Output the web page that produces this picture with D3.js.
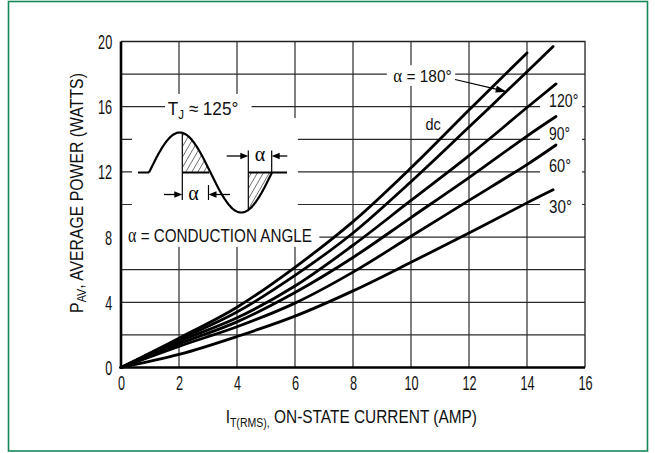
<!DOCTYPE html>
<html><head><meta charset="utf-8">
<script src="https://cdn.jsdelivr.net/npm/d3@7"></script>
<style>
html,body{margin:0;padding:0;background:#fff;}
svg{display:block;}
</style></head><body>
<svg id="chart" width="655" height="453"></svg>
<script>
// Average on-state power dissipation (W) versus RMS on-state current (A),
// one curve per conduction angle plus the dc curve.
const currentDc  = [0, 2, 4, 6, 8, 10, 12, 14];
const powerDc    = [0, 1.8, 3.7, 6.15, 8.95, 12.25, 15.8, 19.3];
const current180 = [0, 2, 4, 6, 8, 10, 12, 14, 14.9];
const power180   = [0, 1.7, 3.4, 5.65, 8.25, 11.4, 14.75, 18.15, 19.7];
const current120 = [0, 2, 4, 6, 8, 10, 12, 14, 15];
const power120   = [0, 1.6, 3.05, 5.0, 7.5, 10.25, 13.0, 15.95, 17.4];
const current90  = [0, 2, 4, 6, 8, 10, 12, 14, 15];
const power90    = [0, 1.45, 2.8, 4.6, 6.75, 9.2, 11.65, 14.2, 15.4];
const current60  = [0, 2, 4, 6, 8, 10, 12, 14, 15];
const power60    = [0, 1.3, 2.5, 3.95, 5.85, 8.05, 10.25, 12.45, 13.65];
const current30  = [0, 2, 4, 6, 8, 10, 12, 14, 14.9];
const power30    = [0, 0.8, 1.9, 3.15, 4.7, 6.45, 8.25, 10.1, 10.9];

const xTicks = [0, 2, 4, 6, 8, 10, 12, 14, 16];
const yTicks = [0, 4, 8, 12, 16, 20];
const xGridValues = [2, 4, 6, 8, 10, 12, 14];
const yGridValues = [2, 4, 6, 8, 10, 12, 14, 16, 18];

const series = [
  { name: "dc",   x: currentDc,  y: powerDc },
  { name: "180°", x: current180, y: power180 },
  { name: "120°", x: current120, y: power120 },
  { name: "90°",  x: current90,  y: power90 },
  { name: "60°",  x: current60,  y: power60 },
  { name: "30°",  x: current30,  y: power30 }
];

const SANS = "'Liberation Sans Narrow','Liberation Sans',Arial,sans-serif";
const SERIF = "'Liberation Serif','DejaVu Serif','Times New Roman',serif";

const svg = d3.select("#chart");
const x = d3.scaleLinear().domain([0, 16]).range([121, 585]);
const y = d3.scaleLinear().domain([0, 20]).range([367.5, 41.5]);

// outer frame
svg.append("rect").attr("x", 8.5).attr("y", 1.5).attr("width", 639).attr("height", 449.5)
  .attr("fill", "none").attr("stroke", "#17885a").attr("stroke-width", 1.6);

const gGrid = svg.append("g");
const gMask = svg.append("g");
const gInset = svg.append("g");
const gCurves = svg.append("g");
const gLabels = svg.append("g");
const gAxes = svg.append("g");

// grid
gGrid.selectAll("line.h").data(yGridValues).join("line")
  .attr("x1", x(0)).attr("x2", x(16)).attr("y1", d => y(d)).attr("y2", d => y(d))
  .attr("stroke", "#2b2b2b").attr("stroke-width", 1.2);
gGrid.selectAll("line.v").data(xGridValues).join("line")
  .attr("y1", y(0)).attr("y2", y(20)).attr("x1", d => x(d)).attr("x2", d => x(d))
  .attr("stroke", "#2b2b2b").attr("stroke-width", 1.2);
// top and right frame of the plot
gAxes.append("path")
  .attr("d", `M${x(0)},${y(20)}H${x(16)}V${y(0)}`)
  .attr("fill", "none").attr("stroke", "#222").attr("stroke-width", 1.3);

// text helper: builds a text from parts (sub = subscript) and squeezes it to a width
function label(parent, opt) {
  const tr = `translate(${opt.x},${opt.y})` + (opt.rotate ? ` rotate(${opt.rotate})` : "");
  const g = parent.append("g").attr("transform", tr);
  const t = g.append("text").attr("text-anchor", opt.anchor || "start")
    .attr("font-size", opt.size).attr("font-family", opt.family || SANS).attr("fill", "#111");
  let shift = 0;
  opt.parts.forEach(p => {
    const ts = t.append("tspan").text(p.t);
    if (p.family) ts.attr("font-family", p.family);
    if (p.size) ts.attr("font-size", p.size);
    const want = p.sub || 0;
    if (want !== shift) { ts.attr("dy", want - shift); shift = want; }
  });
  if (opt.w) {
    const bw = t.node().getBBox().width;
    g.attr("transform", tr + ` scale(${opt.w / bw},1)`);
  }
  return g;
}
function maskBehind(node, padL, padR, padT, padB) {
  const b = node.getBoundingClientRect();
  gMask.append("rect").attr("x", b.left - padL).attr("y", b.top - padT)
    .attr("width", b.width + padL + padR).attr("height", b.height + padT + padB)
    .attr("fill", "#fff");
}

// inset area kept clear of the grid
gMask.append("rect").attr("x", x(0.38)).attr("y", y(15.3))
  .attr("width", x(6.1) - x(0.38)).attr("height", y(7.4) - y(15.3)).attr("fill", "#fff");

// curves
const line = d3.line().x(d => x(d[0])).y(d => y(d[1])).curve(d3.curveCatmullRom.alpha(0.5));
gCurves.selectAll("path").data(series).join("path")
  .attr("d", s => line(s.x.map((v, i) => [v, s.y[i]])))
  .attr("fill", "none").attr("stroke", "#000").attr("stroke-width", 2.8)
  .attr("stroke-linecap", "round");

// curve labels
const sideLabels = [
  { t: "120°", x: 14.76, y: 16.0, w: 29.3 },
  { t: "90°",  x: 14.76, y: 13.95, w: 21 },
  { t: "60°",  x: 14.76, y: 12.0, w: 22 },
  { t: "30°",  x: 14.76, y: 9.45, w: 23 }
];
sideLabels.forEach(l => {
  const g = label(gLabels, { x: x(l.x), y: y(l.y), size: 17.5, w: l.w, parts: [{ t: l.t }] });
  const b = g.node().getBoundingClientRect();
  gMask.append("rect").attr("x", x(14.45)).attr("y", b.top - 1)
    .attr("width", x(15.9) - x(14.45)).attr("height", b.height + 2).attr("fill", "#fff");
});
label(gLabels, { x: x(10.5), y: y(14.57), size: 16.5, w: 15.3, parts: [{ t: "dc" }] });

const a180 = label(gLabels, { x: x(9.39), y: y(17.53), size: 16.5, w: 58.4,
  parts: [{ t: "α", family: SERIF, size: 18 }, { t: " = 180°" }] });
maskBehind(a180.node(), 6.5, 3.5, 0, 0);
// pointer from the 180° label to its curve
{
  const x0 = x(11.52), y0 = y(17.67), x1 = x(13.3), y1 = y(16.92);
  const ang = Math.atan2(y1 - y0, x1 - x0), L = 11, H = 3.4;
  const bx = x1 - L * Math.cos(ang), by = y1 - L * Math.sin(ang);
  gLabels.append("line").attr("x1", x0).attr("y1", y0).attr("x2", bx).attr("y2", by)
    .attr("stroke", "#000").attr("stroke-width", 1.2);
  gLabels.append("path").attr("d",
    `M${x1},${y1}L${bx + H * Math.sin(ang)},${by - H * Math.cos(ang)}L${bx - H * Math.sin(ang)},${by + H * Math.cos(ang)}Z`)
    .attr("fill", "#000");
}

// junction temperature and conduction angle notes
const tj = label(gLabels, { x: 167.7, y: 115, size: 18.5, w: 70.6,
  parts: [{ t: "T" }, { t: "J", size: 12.5, sub: 3.5 }, { t: " ≈ 125°", sub: 0 }] });
{
  const b = tj.node().getBoundingClientRect();
  gMask.append("rect").attr("x", b.left - 2.7).attr("y", 94)
    .attr("width", b.width + 16).attr("height", y(15.3) - 94 + 1).attr("fill", "#fff");
}
const cond = label(gLabels, { x: 128, y: 241.7, size: 19, w: 184,
  parts: [{ t: "α", family: SERIF, size: 20 }, { t: " = CONDUCTION ANGLE" }] });
maskBehind(cond.node(), 6, 7.5, 0, 0);

// waveform sketch: one sine period with the conducting portions hatched
{
  const ox = 149, oy = 172.5, P = 123, A = 40;
  const g = gInset.append("g").attr("transform", `translate(${ox},${oy})`);
  const defs = svg.append("defs");
  const pat = defs.append("pattern").attr("id", "hatch").attr("patternUnits", "userSpaceOnUse")
    .attr("width", 5.2).attr("height", 10).attr("patternTransform", "rotate(30)");
  pat.append("line").attr("x1", 0).attr("y1", 0).attr("x2", 0).attr("y2", 10)
    .attr("stroke", "#000").attr("stroke-width", 1);
  const wave = t => -A * Math.sin(2 * Math.PI * t / P);
  const pts = (a, b) => d3.range(a, b + 0.01, 0.5).map(t => [t, wave(t)]);
  const l2 = d3.line();
  const leftStart = 33.3, rightStart = 99.3;
  // hatched conducting segments
  g.append("path").attr("d", l2(pts(leftStart, P / 2).concat([[leftStart, 0]])) + "Z")
    .attr("fill", "url(#hatch)");
  g.append("path").attr("d", l2(pts(rightStart, P).concat([[rightStart, 0]])) + "Z")
    .attr("fill", "url(#hatch)");
  const st = sel => sel.attr("fill", "none").attr("stroke", "#000");
  st(g.append("path").attr("d", l2(pts(0, P)))).attr("stroke-width", 2.2);
  st(g.append("path").attr("d", `M-11,0H0M${P},0H${P + 15}M${rightStart},0H${P}M${leftStart},0H${P / 2 - 1.5}`))
    .attr("stroke-width", 2);
  st(g.append("path").attr("d",
    `M${leftStart},${wave(leftStart)}V27.5M${rightStart},-22V${wave(rightStart)}M${P - 0.3},-22V0M59.5,12.5V27.5`))
    .attr("stroke-width", 1.2);
  // dimension arrows
  const arrow = (from, to, yy) => {
    const dir = Math.sign(to - from);
    st(g.append("line").attr("x1", from).attr("x2", to - dir * 7).attr("y1", yy).attr("y2", yy))
      .attr("stroke-width", 1.3);
    g.append("path").attr("d", `M${to},${yy}L${to - dir * 8},${yy - 3.2}L${to - dir * 8},${yy + 3.2}Z`)
      .attr("fill", "#000");
  };
  arrow(15, leftStart, 22);
  arrow(81, 59.5, 22);
  arrow(77.7, rightStart, -16.5);
  arrow(138.3, P - 0.3, -16.5);
  g.append("text").attr("x", 44.5).attr("y", 27.5).attr("text-anchor", "middle")
    .attr("font-family", SERIF).attr("font-size", 20).text("α");
  g.append("text").attr("x", 111).attr("y", -11.5).attr("text-anchor", "middle")
    .attr("font-family", SERIF).attr("font-size", 20).text("α");
}

// axes
const yAxis = d3.axisLeft(y).tickValues(yTicks).tickSize(0).tickFormat(d3.format("d"));
const xAxis = d3.axisBottom(x).tickValues(xTicks).tickSize(0).tickFormat(d3.format("d"));
const gy = gAxes.append("g").attr("transform", `translate(${x(0)},0)`).call(yAxis);
const gx = gAxes.append("g").attr("transform", `translate(0,${y(0)})`).call(xAxis);
[gy, gx].forEach(g => {
  g.select(".domain").remove();
  g.selectAll("text").attr("font-family", SANS).attr("font-size", 19.5).attr("fill", "#111");
});
gy.selectAll("text").each(function () {
  const t = d3.select(this).attr("x", 0).attr("dy", null).attr("y", 0);
  const k = 7.1 * this.textContent.length / this.getBBox().width;
  t.attr("transform", `translate(-8.8,7) scale(${k},1)`);
});
gx.selectAll("text").each(function () {
  const t = d3.select(this).attr("x", 0).attr("dy", null).attr("y", 0);
  const k = 7.1 * this.textContent.length / this.getBBox().width;
  t.attr("transform", `translate(0,22.5) scale(${k},1)`);
});
// heavy left and bottom axis lines
gAxes.append("path").attr("d", `M${x(0)},${y(20)}V${y(0)}H${x(16)}`)
  .attr("fill", "none").attr("stroke", "#000").attr("stroke-width", 2.6);

// axis titles
label(svg, { x: 83.3, y: 193, rotate: -90, anchor: "middle", size: 19, w: 240,
  parts: [{ t: "P" }, { t: "AV", size: 13, sub: 3 }, { t: ", AVERAGE POWER (WATTS)", sub: 0 }] });
label(svg, { x: 351.3, y: 423, anchor: "middle", size: 19, w: 251.4,
  parts: [{ t: "I" }, { t: "T(RMS),", size: 13, sub: 3.7 }, { t: " ON-STATE CURRENT (AMP)", sub: 0 }] });
</script>
</body></html>
